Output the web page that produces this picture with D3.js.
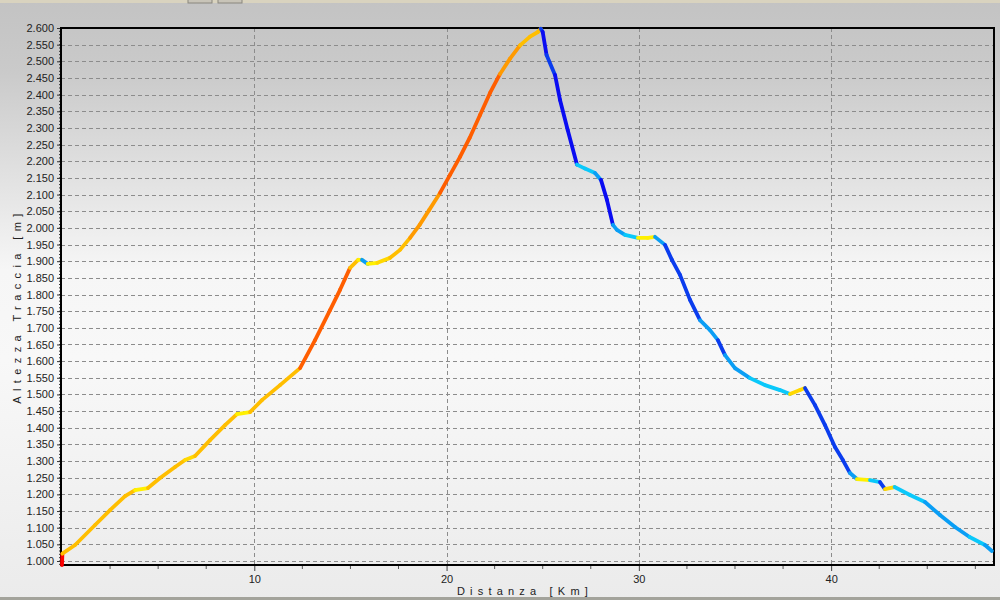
<!DOCTYPE html>
<html><head><meta charset="utf-8">
<script src="https://cdn.jsdelivr.net/npm/d3@7"></script>
<style>html,body{margin:0;padding:0;background:#fff}svg{display:block}</style>
</head><body>
<script>
const distKm = [0, 0.02, 0.68, 1.72, 2.5, 3.28, 3.8, 4.47, 5.1, 5.88, 6.4, 6.92, 7.7, 8.48, 9.1, 9.78, 10.4, 11.34, 12.38, 13.16, 13.94, 14.46, 14.98, 15.4, 15.6, 15.9, 16.4, 17.06, 17.58, 18.1, 18.6, 19.1, 19.66, 20.18, 20.7, 21.2, 21.74, 22.26, 22.78, 23.3, 23.82, 24.34, 24.75, 24.9, 25.0, 25.2, 25.64, 25.9, 26.3, 26.78, 27.2, 27.72, 28.03, 28.34, 28.65, 28.86, 29.28, 29.95, 30.47, 30.84, 31.36, 31.72, 32.14, 32.66, 33.18, 33.7, 34.11, 34.48, 35.0, 35.78, 36.56, 37.34, 37.86, 38.38, 38.64, 39.16, 39.68, 40.2, 40.61, 40.98, 41.34, 42.02, 42.54, 42.8, 43.3, 44.1, 44.88, 45.66, 46.44, 47.2, 48.0, 48.36];
const elevM = [988, 1022, 1048, 1108, 1153, 1195, 1213, 1219, 1249, 1282, 1303, 1315, 1363, 1408, 1441, 1447, 1483, 1528, 1579, 1663, 1753, 1814, 1880, 1904, 1904, 1892, 1895, 1910, 1934, 1970, 2009, 2054, 2105, 2159, 2213, 2270, 2339, 2405, 2462, 2508, 2548, 2574, 2588, 2598, 2588, 2519, 2459, 2384, 2294, 2190, 2178, 2165, 2144, 2084, 2009, 1994, 1979, 1970, 1970, 1973, 1949, 1904, 1859, 1784, 1723, 1693, 1663, 1618, 1579, 1549, 1528, 1513, 1501, 1513, 1519, 1468, 1408, 1342, 1303, 1264, 1246, 1243, 1237, 1216, 1222, 1198, 1177, 1138, 1102, 1072, 1048, 1030];
const yTicks = d3.range(1000, 2601, 50);
const xTicks = [10, 20, 30, 40];
const xMinorTicks = d3.range(2.5, 48.5, 2.5);
const slopeBreaks = [-15, -8, -3.5, -1, 1, 3, 7, 9.5, 15];
const slopeColors = ["#0a0cf2", "#0a3cee", "#0a9ef5", "#0ac8fa", "#fff000", "#ffd800", "#ffbe00", "#ff9a00", "#ff5e00", "#ff0000"];

const W = 1000, H = 600;
const m = {l: 61, r: 994, t: 28, b: 565};
const svg = d3.select("body").append("svg").attr("width", W).attr("height", H);
const defs = svg.append("defs");
const g1 = defs.append("linearGradient").attr("id", "bg").attr("x1", 0).attr("x2", 0).attr("y1", 0).attr("y2", 1);
[[0, "#c3c3c3"], [0.12, "#cacaca"], [0.45, "#f6f6f6"], [0.6, "#f8f8f8"], [1, "#ebebeb"]].forEach(([o, c]) => g1.append("stop").attr("offset", o).attr("stop-color", c));
svg.append("rect").attr("width", W).attr("height", H).attr("fill", "url(#bg)");
svg.append("rect").attr("x", 0).attr("y", 0).attr("width", W).attr("height", 3).attr("fill", "#d9d3bf");
svg.append("rect").attr("x", 188).attr("y", -4).attr("width", 24).attr("height", 7).attr("fill", "#c8c4b8").attr("stroke", "#8a877f");
svg.append("rect").attr("x", 218).attr("y", -4).attr("width", 24).attr("height", 7).attr("fill", "#c8c4b8").attr("stroke", "#8a877f");
svg.append("rect").attr("x", 0).attr("y", 597).attr("width", W).attr("height", 3).attr("fill", "#a3a39b");

const x = d3.scaleLinear().domain([0, 48.47]).range([m.l + 1, m.r]);
const y = d3.scaleLinear().domain([988, 2600]).range([m.b, m.t]);

const loc = d3.formatLocale({decimal: ",", thousands: ".", grouping: [3], currency: ["", ""]});
const fmt = loc.format(",");

// grid
const grid = svg.append("g").attr("stroke", "#8c8c8c").attr("stroke-width", 1).attr("stroke-dasharray", "4,3");
grid.selectAll(".hy").data(yTicks.filter(v => v < 2600)).join("line")
  .attr("x1", m.l).attr("x2", m.r).attr("y1", d => Math.round(y(d)) + 0.5).attr("y2", d => Math.round(y(d)) + 0.5);
grid.selectAll(".vx").data(xTicks).join("line")
  .attr("y1", m.t).attr("y2", m.b).attr("x1", d => Math.round(x(d)) + 0.5).attr("x2", d => Math.round(x(d)) + 0.5);

// axes
const yAxis = d3.axisLeft(y).tickValues(yTicks).tickFormat(fmt).tickSize(4).tickPadding(3);
const ya = svg.append("g").attr("transform", `translate(${m.l},0)`).call(yAxis);
ya.select(".domain").remove();
ya.selectAll("text").attr("font-family", "Liberation Sans, Arial, sans-serif").attr("font-size", 11).attr("fill", "#222");
ya.selectAll("line").attr("stroke", "#333");
svg.append("g").attr("stroke", "#333").selectAll("line").data(d3.range(990, 2600, 10)).join("line")
  .attr("x1", m.l - 2).attr("x2", m.l).attr("y1", d => y(d)).attr("y2", d => y(d));

const xAxis = d3.axisBottom(x).tickValues(xTicks).tickFormat(d3.format("d")).tickSize(6).tickPadding(4);
const xa = svg.append("g").attr("transform", `translate(0,${m.b})`).call(xAxis);
xa.select(".domain").remove();
xa.selectAll("text").attr("font-family", "Liberation Sans, Arial, sans-serif").attr("font-size", 11).attr("fill", "#222");
xa.selectAll("line").attr("stroke", "#444");
svg.append("g").attr("stroke", "#555").selectAll("line").data(xMinorTicks.filter(v => !xTicks.includes(v))).join("line")
  .attr("x1", d => x(d)).attr("x2", d => x(d)).attr("y1", m.b).attr("y2", m.b + 4);

// frame
svg.append("rect").attr("x", m.l).attr("y", m.t).attr("width", m.r - m.l).attr("height", m.b - m.t)
  .attr("fill", "none").attr("stroke", "#000").attr("stroke-width", 2);

// labels
svg.append("text").attr("x", 525).attr("y", 595).attr("text-anchor", "middle")
  .attr("font-family", "Liberation Sans, Arial, sans-serif").attr("font-size", 11).attr("letter-spacing", 5.2).attr("fill", "#222")
  .text("Distanza [Km]");
svg.append("text").attr("transform", "translate(21,306) rotate(-90)").attr("text-anchor", "middle")
  .attr("font-family", "Liberation Sans, Arial, sans-serif").attr("font-size", 11).attr("letter-spacing", 5.4).attr("fill", "#222")
  .text("Altezza Traccia [m]");

// profile segments coloured by slope
const color = d3.scaleThreshold().domain(slopeBreaks).range(slopeColors);
const segs = d3.range(distKm.length - 1).map(i => ({
  x0: distKm[i], y0: elevM[i], x1: distKm[i + 1], y1: elevM[i + 1],
  s: (elevM[i + 1] - elevM[i]) / ((distKm[i + 1] - distKm[i]) * 1000) * 100
}));
svg.append("g").attr("fill", "none").attr("stroke-width", 3.8).attr("stroke-linecap", "round")
  .selectAll("line").data(segs).join("line")
  .attr("x1", d => x(d.x0)).attr("y1", d => y(d.y0)).attr("x2", d => x(d.x1)).attr("y2", d => y(d.y1))
  .attr("stroke", d => color(d.s));
</script>
</body></html>
